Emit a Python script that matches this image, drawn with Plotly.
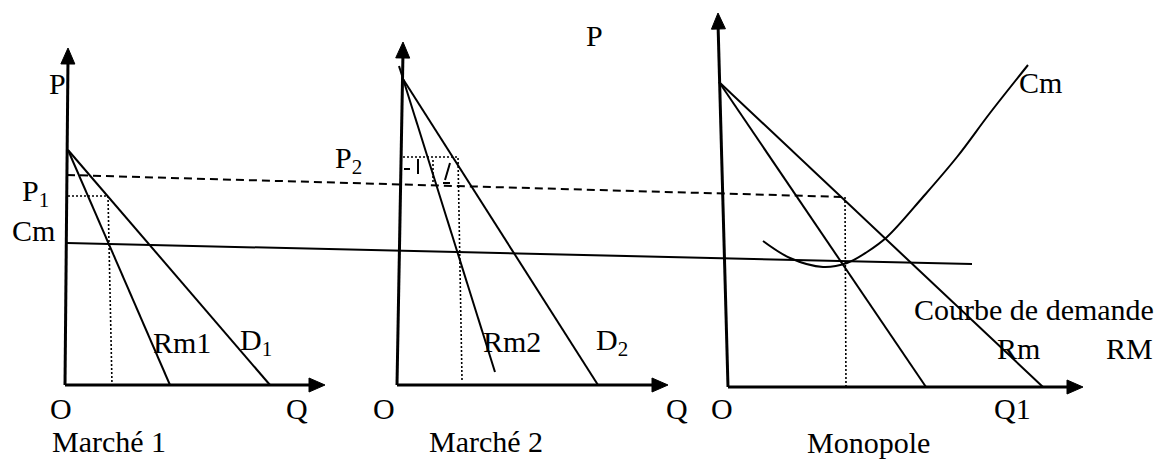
import plotly.graph_objects as go

W, H = 1165, 459
OFF = 8  # page body margin offset of the figure in the browser window
FONT = "Liberation Serif"
FS = 30

# ---- Axes of the three panels (window pixel units, y grows downward) ----
axis_origin_x = [65, 397, 728]
axis_origin_y = [385, 385, 387]
yaxis_top_x = [68, 403, 718]
yaxis_top_y = [48, 42, 13]
xaxis_end_x = [325, 668, 1083]
xaxis_end_y = [385, 385, 387]

# ---- Demand (D / RM) and marginal revenue (Rm) lines ----
demand_start_x = [68, 403, 719]
demand_start_y = [150, 79, 82]
demand_end_x = [270, 598, 1043]
demand_end_y = [385, 385, 387]
mr_start_x = [68, 399, 719]
mr_start_y = [150, 66, 82]
mr_end_x = [170, 495, 926]
mr_end_y = [385, 372, 387]

# ---- Common marginal cost line and dashed monopoly price line ----
cm_line_x = [67, 972]
cm_line_y = [243, 264]
price_dash_x = [67, 845]
price_dash_y = [175, 197]

# ---- Monopole marginal cost curve ----
cm_curve_x = [763, 790, 823, 847, 867, 887, 923, 957, 990, 1028]
cm_curve_y = [241, 258, 267, 263, 252, 237, 197, 157, 113, 65]

# ---- Dotted guide lines (x list, y list) ----
dotted_x = [[68, 108, 112], [403, 458, 462], [845, 846], [433, 433]]
dotted_y = [[196, 196, 385], [157, 157, 380], [197, 387], [160, 183]]

# ---- small dashed marks in Marché 2 ----
marks_x = [[404, 410], [418, 418], [450, 445], [443, 450]]
marks_y = [[169, 169], [159, 174], [163, 180], [183, 183]]

# ---- Labels ----
label_text = ["P", "P<sub>1</sub>", "Cm", "Rm1", "D<sub>1</sub>", "O", "Q", "Marché 1",
              "P<sub>2</sub>", "P", "Rm2", "D<sub>2</sub>", "O", "Q", "Marché 2",
              "Cm", "Courbe de demande", "Rm", "RM", "O", "Q1", "Monopole"]
label_x = [57, 35, 33, 182, 256, 61, 297, 50,
           348, 594, 512, 612, 384, 677, 427,
           1040, 1034, 1018, 1129, 722, 1012, 805]
label_y = [83, 193, 230, 342, 342, 408, 408, 441,
           160, 35, 341, 342, 408, 408, 441,
           82, 309, 348, 348, 408, 408, 442]
label_anchor = ["center", "center", "center", "center", "center", "center", "center", "left",
                "center", "center", "center", "center", "center", "center", "left",
                "center", "center", "center", "center", "center", "center", "left"]

fig = go.Figure()
BLK = "black"


def seg(xs, ys, width=2, dash="solid", shape="linear"):
    fig.add_trace(go.Scatter(x=xs, y=ys, mode="lines", hoverinfo="skip",
                             line=dict(color=BLK, width=width, dash=dash, shape=shape)))


def arrow(x0, y0, x1, y1, length=16, half=7):
    dx, dy = x1 - x0, y1 - y0
    n = (dx * dx + dy * dy) ** 0.5
    ux, uy = dx / n, dy / n
    bx, by = x1 - ux * length, y1 - uy * length
    px, py = -uy, ux
    fig.add_trace(go.Scatter(x=[x1, bx + px * half, bx - px * half, x1],
                             y=[y1, by + py * half, by - py * half, y1],
                             mode="lines", fill="toself", fillcolor=BLK,
                             line=dict(color=BLK, width=1), hoverinfo="skip"))


for i in range(3):
    ox, oy = axis_origin_x[i], axis_origin_y[i]
    seg([ox, yaxis_top_x[i]], [oy, yaxis_top_y[i] + 10], width=3)
    arrow(ox, oy, yaxis_top_x[i], yaxis_top_y[i])
    seg([ox, xaxis_end_x[i] - 10], [oy, xaxis_end_y[i]], width=3)
    arrow(ox, oy, xaxis_end_x[i], xaxis_end_y[i])
    seg([demand_start_x[i], demand_end_x[i]], [demand_start_y[i], demand_end_y[i]])
    seg([mr_start_x[i], mr_end_x[i]], [mr_start_y[i], mr_end_y[i]])

seg(cm_line_x, cm_line_y)
seg(price_dash_x, price_dash_y, dash="8px,5px")
seg(cm_curve_x, cm_curve_y, shape="spline")
for xs, ys in zip(dotted_x, dotted_y):
    seg(xs, ys, width=1.6, dash="2px,2px")
for xs, ys in zip(marks_x, marks_y):
    seg(xs, ys, width=2)

for t, x, y, a in zip(label_text, label_x, label_y, label_anchor):
    fig.add_annotation(x=x, y=y, text=t, showarrow=False, xanchor=a, yanchor="middle",
                       font=dict(family=FONT, size=FS, color=BLK))

fig.update_layout(
    width=W - OFF, height=H - OFF, margin=dict(l=0, r=0, t=0, b=0),
    paper_bgcolor="white", plot_bgcolor="white", showlegend=False,
    xaxis=dict(range=[OFF, W], visible=False, fixedrange=True),
    yaxis=dict(range=[H, OFF], visible=False, fixedrange=True),
)
fig.write_html("out.html")
